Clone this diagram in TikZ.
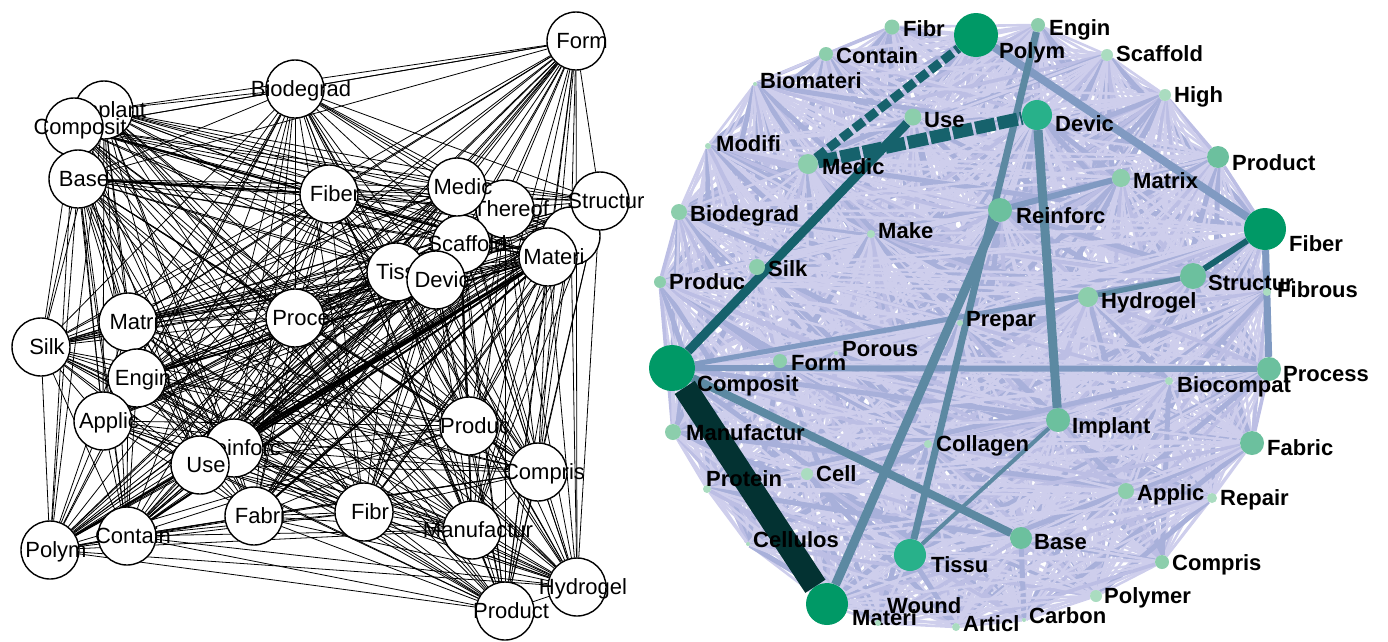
\documentclass[tikz,border=0pt]{standalone}
\usepackage{fontspec}
\setmainfont{Liberation Sans}
\pgfdeclarelayer{edges}
\pgfsetlayers{edges,main}

\definecolor{gA}{RGB}{0,153,102}
\definecolor{gB}{RGB}{40,177,138}
\definecolor{gC}{RGB}{108,192,158}
\definecolor{gD}{RGB}{140,206,172}
\definecolor{gE}{RGB}{170,220,192}
\definecolor{lavA}{RGB}{206,206,236}
\definecolor{lavB}{RGB}{168,176,218}
\definecolor{lavC}{RGB}{188,190,228}
\definecolor{hlLight}{RGB}{128,154,194}
\definecolor{hlSteel}{RGB}{92,137,162}
\definecolor{hlTeal}{RGB}{22,98,108}
\definecolor{hlDark}{RGB}{3,50,50}

\tikzset{
  lnode/.style={circle,draw=black,line width=1.4pt,fill=white,minimum size=58pt,inner sep=0pt},
  llab/.style={inner sep=0pt,text height=15pt,text depth=0pt,xshift=6pt,font=\fontsize{22}{22}\selectfont},
  ledge/.style={black,line width=0.8pt},
  rnode/.style={circle,draw=none,inner sep=0pt},
  rlab/.style={anchor=west,inner sep=0pt,text height=16pt,text depth=0pt,font=\fontsize{22}{22}\selectfont\bfseries},
  redge/.style={lavA,line width=2.6pt},
  redgeB/.style={lavB,line width=5pt},
  redgeC/.style={lavC,line width=3.6pt},
  broken/.style={dash pattern=on 12pt off 4pt}
}

\def\llist{lForm,lBiodegrad,lImplant,lComposit,lBase,lFiber,lThereof,lScaffold,lMedic,lHid,lStructur,lTissu,lDevic,lMateri,lProce,lMatri,lSilk,lEngin,lApplic,lReinforc,lUse,lFabri,lContain,lPolym,lFibr,lProduc,lCompris,lManufactur,lHydrogel,lProduct}
\def\rlist{rFibr,rPolym,rEngin,rContain,rScaffold,rBiomateri,rHigh,rUse,rDevic,rModifi,rMedic,rProduct,rMatrix,rBiodegrad,rReinforc,rMake,rFiber,rSilk,rProduc,rStructur,rFibrous,rHydrogel,rPrepar,rPorous,rForm,rComposit,rProcess,rBiocompat,rImplant,rManufactur,rCollagen,rFabric,rCell,rProtein,rApplic,rRepair,rCellulos,rBase,rTissu,rCompris,rMateri,rPolymer,rWound,rCarbon,rArticl}

\begin{document}
\begin{tikzpicture}[x=1pt,y=-1pt]
\useasboundingbox (0,0) rectangle (1388,641);

% left network
\foreach \n/\x/\y in {Form/576/41,Biodegrad/295/89,Implant/104/110,Composit/74/127,Base/78/179,Fiber/329/194,Thereof/505/209,Scaffold/461/244,Medic/457/187}
  \node[lnode,label={[llab]center:\n}] (l\n) at (\x,\y) {};
\node[lnode] (lHid) at (571,236) {};
\foreach \n/\x/\y in {Structur/600/201,Tissu/396/272,Devic/436/280,Materi/548/257,Proce/295/318,Matri/128/322,Silk/41/347,Engin/137/378,Applic/103/421,Reinforc/234/448,Use/200/465,Fabri/254/516,Contain/127/536,Polym/50/550,Fibr/364/512,Produc/469/426,Compris/538/472,Manufactur/472/530,Hydrogel/577/587,Product/505/611}
  \node[lnode,label={[llab]center:\n}] (l\n) at (\x,\y) {};

% right network
\foreach \n/\x/\y/\rad/\col/\lx/\ly in {
  Fibr/892/27/7.5/gD/903/28, Polym/976/35/22/gA/999/50, Engin/1038/25/7/gD/1049/27,
  Contain/826/54/7/gD/836/55, Scaffold/1107/55/6/gE/1116/53, Biomateri/755/84/2/gE/760/80,
  High/1165/95/6/gE/1174/94, Use/913/117/8.5/gD/924/119, Devic/1037/115/15/gB/1055/123,
  Modifi/708/146/3/gE/716/143, Medic/808/164/10/gD/822/166, Product/1218/157/11/gC/1232/162,
  Matrix/1121/178/9/gD/1133/180, Biodegrad/679/212/8/gD/690/213, Reinforc/1000/210/12/gC/1016/215,
  Make/871/234/4/gE/878/230, Fiber/1265/229/21/gA/1289/243, Silk/757/267/8/gD/768/268,
  Produc/660/282/6/gD/669/281, Structur/1193/276/13/gC/1208/282, Fibrous/1267/292/4/gE/1277/289,
  Hydrogel/1088/297/10/gD/1101/300, Prepar/960/323/3/gE/966/318, Porous/836/353/2/gE/842/348,
  Form/780/361/7/gD/791/362, Composit/672/368/23/gA/697/383, Process/1269/369/12/gC/1283/373,
  Biocompat/1169/381/4/gE/1177/384, Implant/1058/420/12/gC/1072/425, Manufactur/673/432/8/gD/686/432,
  Collagen/928/444/4/gE/936/443, Fabric/1252/443/12/gC/1267/447, Cell/807/474/6/gE/816/473,
  Protein/707/489/4/gE/706/478, Applic/1126/491/8/gD/1137/492, Repair/1212/498/5/gE/1220/497,
  Cellulos/748/544/2/gE/753/539, Base/1021/538/11/gC/1034/541, Tissu/910/555/16/gB/931/564,
  Compris/1162/562/7/gD/1172/562, Materi/827/604/21/gA/852/617, Polymer/1096/596/6/gE/1104/595,
  Wound/878/623/3/gE/887/605, Carbon/1024/620/2/gE/1029/615, Articl/956/627/4/gE/963/623}
{
  \node[rnode,fill=\col,minimum size=2*\rad] (r\n) at (\x,\y) {};
  \node[rlab] (r\n-t) at (\lx,\ly) {\n};
}

\begin{pgfonlayer}{edges}
\foreach \a [count=\i] in \llist {
  \foreach \b [count=\j] in \llist {
    \ifnum\j>\i \draw[ledge] (\a) -- (\b); \fi
  }
}
\foreach \a/\b in {lPolym/lMateri,lUse/lMateri,lReinforc/lMateri,lComposit/lMateri,lContain/lMateri,lFabri/lMateri,lBase/lFiber,lEngin/lMateri}
  \draw[ledge,line width=2pt] (\a) -- (\b);

\foreach \a [count=\i] in \rlist {
  \foreach \b [count=\j] in \rlist {
    \ifnum\j>\i
      \pgfmathtruncatemacro\k{mod(\i*7+\j*11,6)}
      \ifcase\k \draw[redgeB] (\a) -- (\b);
      \or \draw[redgeC] (\a) -- (\b);
      \else \draw[redge] (\a) -- (\b); \fi
    \fi
  }
}
\foreach \a/\b/\w/\col in {rComposit/rProcess/6/hlLight,rComposit/rStructur/5/hlLight,rReinforc/rMatrix/6/hlLight,
  rFiber/rProcess/7/hlLight,rPolym/rFiber/8/hlLight,rComposit/rBase/8/hlSteel,rTissu/rImplant/4/hlSteel,
  rHydrogel/rStructur/5/hlSteel,rEngin/rTissu/7/hlSteel,rReinforc/rMateri/9/hlSteel,rDevic/rImplant/9/hlSteel,
  rFiber/rStructur/6/hlTeal,rComposit/rUse/9/hlTeal,rComposit/rMateri/24/hlDark}
  \draw[\col,line width=\w] (\a) -- (\b);
% crossed by many light links
\draw[hlTeal,line width=9pt,broken] (rMedic) -- (rPolym);
\draw[hlTeal,line width=13pt,dash pattern=on 20pt off 3pt] (rMedic) -- (rDevic);
\end{pgfonlayer}
\end{tikzpicture}
\end{document}
